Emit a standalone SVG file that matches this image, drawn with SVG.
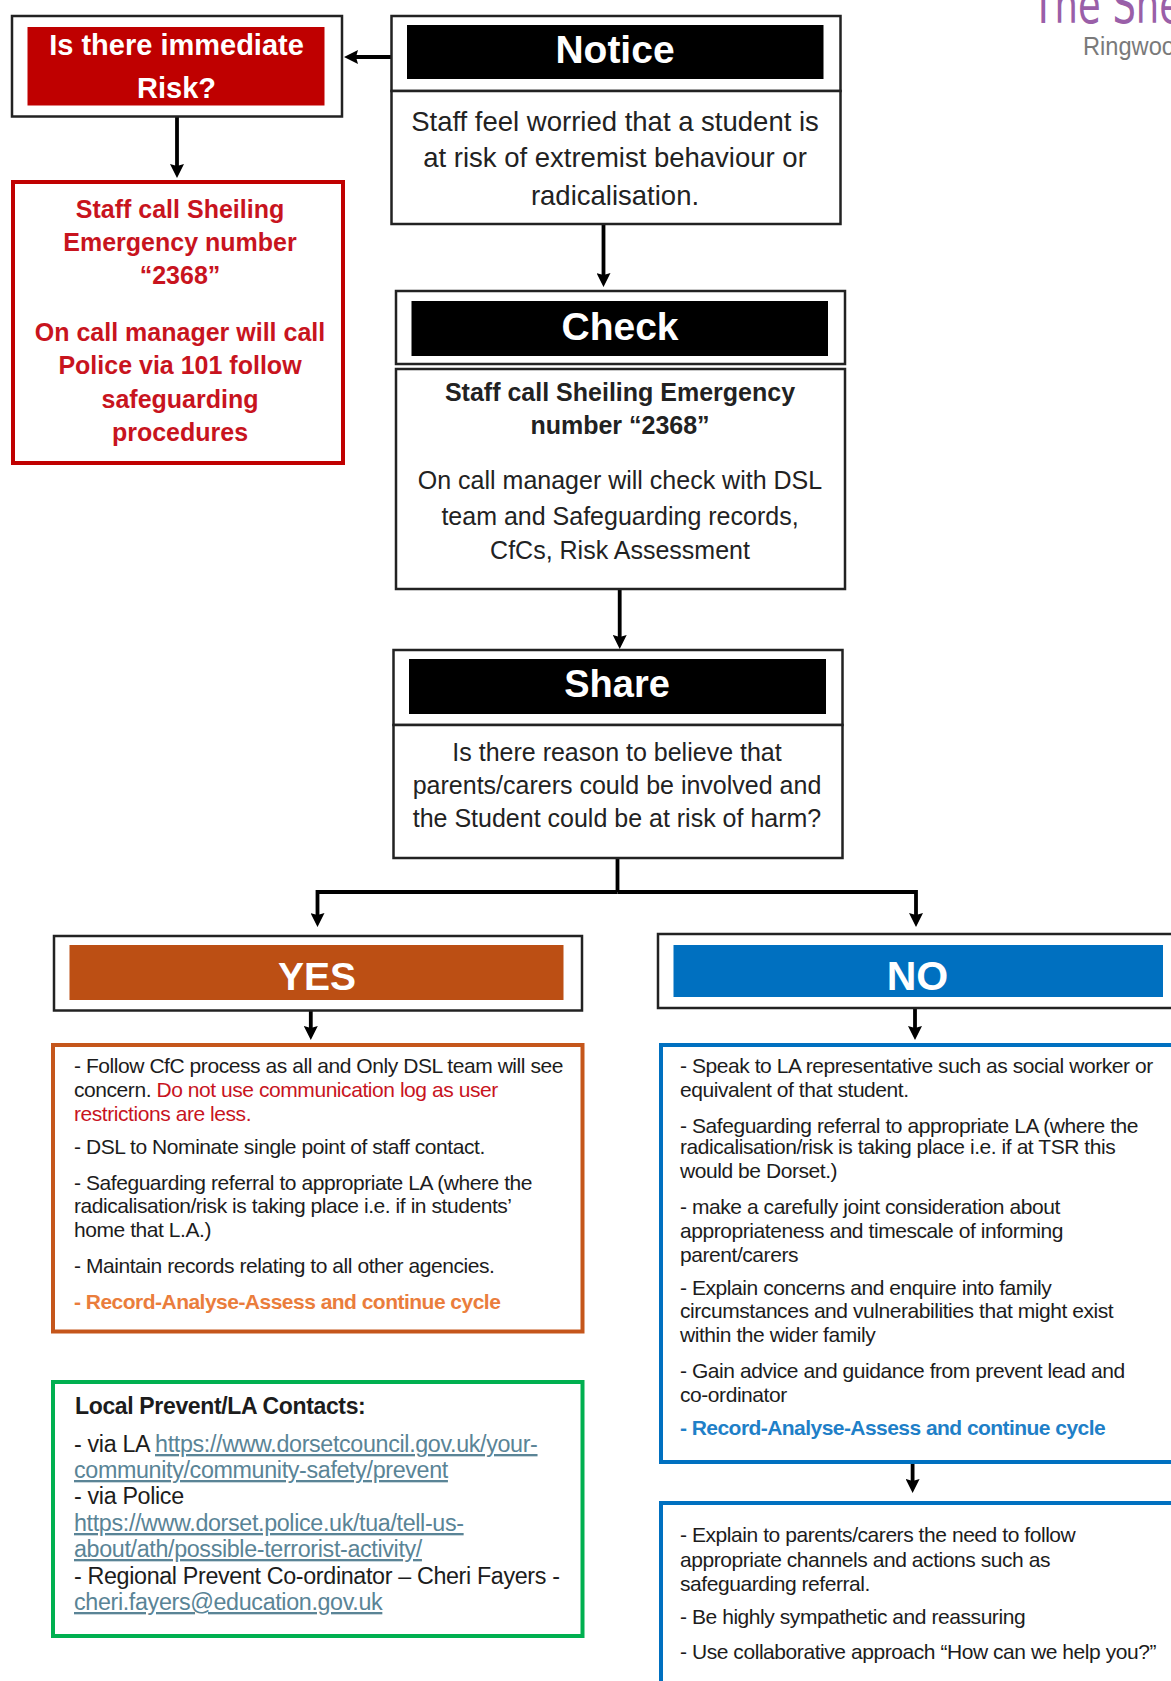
<svg xmlns="http://www.w3.org/2000/svg" width="1171" height="1681" viewBox="0 0 1171 1681">
<style>
text{font-family:"Liberation Sans",Arial,sans-serif}
.box{fill:#fff;stroke:#222;stroke-width:2.5}
.thick{fill:none;stroke-width:4}
.title{font-weight:700;fill:#fff;text-anchor:middle}
.body{font-size:27.5px;fill:#222;text-anchor:middle}
.b25{font-size:25px}
.bold{font-weight:700;font-size:25px}
.red{font-weight:700;font-size:25px;fill:#c8141e;text-anchor:middle}
.small{font-size:21px;fill:#1c1c1c;letter-spacing:-.44px}
.contact{font-size:23.3px;fill:#1c1c1c;letter-spacing:-.35px}
.head{font-weight:700;font-size:23px}
.link{fill:#5a8496;text-decoration:underline}
.conn{fill:none;stroke:#000;stroke-width:3.8}
</style>
<defs>
<marker id="arrow" markerUnits="userSpaceOnUse" markerWidth="14" markerHeight="14" refX="2" refY="7" orient="auto">
<path d="M0 0L14 7L0 14L2 7z" fill="#000"/>
</marker>
</defs>
<rect width="1171" height="1681" fill="#fff"/>

<g id="logo">
<text x="1032" y="23" font-size="54" fill="#9a5fa8" style="font-family:'DejaVu Sans',sans-serif" textLength="150" lengthAdjust="spacingAndGlyphs">The She</text>
<text x="1083" y="55" font-size="25" fill="#7a7a7a" textLength="92" lengthAdjust="spacingAndGlyphs">Ringwoo</text>
</g>

<g id="connectors">
<path class="conn" d="M391 57H356" marker-end="url(#arrow)"/>
<path class="conn" d="M177 117V166" marker-end="url(#arrow)"/>
<path class="conn" d="M603.5 224V275" marker-end="url(#arrow)"/>
<path class="conn" d="M619.7 589V637" marker-end="url(#arrow)"/>
<path class="conn" d="M617.5 858V892"/>
<path class="conn" d="M617.5 892H916V915" marker-end="url(#arrow)"/>
<path class="conn" d="M617.5 892H317.5V915" marker-end="url(#arrow)"/>
<path class="conn" d="M310.8 1011V1028" marker-end="url(#arrow)"/>
<path class="conn" d="M915 1008V1028" marker-end="url(#arrow)"/>
<path class="conn" d="M912.6 1462V1481" marker-end="url(#arrow)"/>
</g>

<g id="risk">
<rect class="box" x="12" y="16" width="330" height="100.5"/>
<rect x="27.5" y="27" width="297" height="78.5" fill="#bf0000"/>
<text class="title" font-size="29" x="176.5" y="55">Is there immediate</text>
<text class="title" font-size="29" x="176.5" y="98">Risk?</text>
</g>

<g id="risk-action">
<rect class="thick" x="13" y="182" width="330" height="281" stroke="#c00000"/>
<text class="red" x="180" y="218">Staff call Sheiling</text>
<text class="red" x="180" y="251">Emergency number</text>
<text class="red" x="180" y="284">“2368”</text>
<text class="red" x="180" y="341">On call manager will call</text>
<text class="red" x="180" y="374">Police via 101 follow</text>
<text class="red" x="180" y="408">safeguarding</text>
<text class="red" x="180" y="441">procedures</text>
</g>

<g id="notice">
<rect class="box" x="391.5" y="16" width="449" height="75"/>
<rect class="box" x="391.5" y="91" width="449" height="133"/>
<rect x="407" y="25" width="416.5" height="54" fill="#000"/>
<text class="title" font-size="39" x="615" y="63">Notice</text>
<text class="body" x="615" y="131">Staff feel worried that a student is</text>
<text class="body" x="615" y="167">at risk of extremist behaviour or</text>
<text class="body" x="615" y="205">radicalisation.</text>
</g>

<g id="check">
<rect class="box" x="396" y="291" width="449" height="73"/>
<rect class="box" x="396" y="369" width="449" height="220"/>
<rect x="411.500" y="301" width="416.5" height="55" fill="#000"/>
<text class="title" font-size="39" x="620" y="340">Check</text>
<text class="body bold" x="620" y="401">Staff call Sheiling Emergency</text>
<text class="body bold" x="620" y="434">number “2368”</text>
<text class="body b25" x="620" y="489">On call manager will check with DSL</text>
<text class="body b25" x="620" y="525">team and Safeguarding records,</text>
<text class="body b25" x="620" y="559">CfCs, Risk Assessment</text>
</g>

<g id="share">
<rect class="box" x="393.5" y="650" width="449" height="75"/>
<rect class="box" x="393.5" y="725" width="449" height="133"/>
<rect x="409" y="659" width="417" height="55" fill="#000"/>
<text class="title" font-size="38" x="617" y="697">Share</text>
<text class="body b25" x="617" y="761">Is there reason to believe that</text>
<text class="body b25" x="617" y="794">parents/carers could be involved and</text>
<text class="body b25" x="617" y="827">the Student could be at risk of harm?</text>
</g>

<g id="yes">
<rect class="box" x="54" y="936" width="528" height="74.5"/>
<rect x="69.5" y="945" width="494" height="55" fill="#bc4f14"/>
<text class="title" font-size="39" x="317" y="990">YES</text>
</g>

<g id="yes-actions">
<rect class="thick" x="53" y="1045" width="529.500" height="286.500" stroke="#c5561b"/>
<text class="small" x="74" y="1073">- Follow CfC process as all and Only DSL team will see</text>
<text class="small" x="74" y="1097">concern. <tspan fill="#c8141e">Do not use communication log as user</tspan></text>
<text class="small" x="74" y="1121" style="fill:#c8141e">restrictions are less.</text>
<text class="small" x="74" y="1154">- DSL to Nominate single point of staff contact.</text>
<text class="small" x="74" y="1190">- Safeguarding referral to appropriate LA (where the</text>
<text class="small" x="74" y="1213">radicalisation/risk is taking place i.e. if in students’</text>
<text class="small" x="74" y="1237">home that L.A.)</text>
<text class="small" x="74" y="1273">- Maintain records relating to all other agencies.</text>
<text class="small" x="74" y="1309" style="fill:#ea7d3c;font-weight:700;letter-spacing:-.52px">- Record-Analyse-Assess and continue cycle</text>
</g>

<g id="contacts">
<rect class="thick" x="53" y="1382" width="529.500" height="254" stroke="#00b050"/>
<text class="contact head" x="75" y="1414">Local Prevent/LA Contacts:</text>
<text class="contact" x="74" y="1452">- via LA <tspan class="link">https://www.dorsetcouncil.gov.uk/your-</tspan></text>
<text class="contact link" x="74" y="1478">community/community-safety/prevent</text>
<text class="contact" x="74" y="1504">- via Police</text>
<text class="contact link" x="74" y="1531">https://www.dorset.police.uk/tua/tell-us-</text>
<text class="contact link" x="74" y="1557">about/ath/possible-terrorist-activity/</text>
<text class="contact" x="74" y="1584">- Regional Prevent Co-ordinator – Cheri Fayers -</text>
<text class="contact link" x="74" y="1610">cheri.fayers@education.gov.uk</text>
</g>

<g id="no">
<rect class="box" x="658" y="934" width="530" height="74"/>
<rect x="673.5" y="945" width="489.500" height="52" fill="#0070c0"/>
<text class="title" font-size="41" x="917.500" y="990">NO</text>
</g>

<g id="no-actions">
<rect class="thick" x="661" y="1045" width="530" height="417" stroke="#0070c0"/>
<text class="small" x="680" y="1073">- Speak to LA representative such as social worker or</text>
<text class="small" x="680" y="1097">equivalent of that student.</text>
<text class="small" x="680" y="1133">- Safeguarding referral to appropriate LA (where the</text>
<text class="small" x="680" y="1154">radicalisation/risk is taking place i.e. if at TSR this</text>
<text class="small" x="680" y="1178">would be Dorset.)</text>
<text class="small" x="680" y="1214">- make a carefully joint consideration about</text>
<text class="small" x="680" y="1238">appropriateness and timescale of informing</text>
<text class="small" x="680" y="1262">parent/carers</text>
<text class="small" x="680" y="1295">- Explain concerns and enquire into family</text>
<text class="small" x="680" y="1318">circumstances and vulnerabilities that might exist</text>
<text class="small" x="680" y="1342">within the wider family</text>
<text class="small" x="680" y="1378">- Gain advice and guidance from prevent lead and</text>
<text class="small" x="680" y="1402">co-ordinator</text>
<text class="small" x="680" y="1435" style="fill:#1f80c8;font-weight:700;letter-spacing:-.55px">- Record-Analyse-Assess and continue cycle</text>
</g>

<g id="no-parents">
<rect class="thick" x="661" y="1503" width="530" height="221" stroke="#0070c0"/>
<text class="small" x="680" y="1542">- Explain to parents/carers the need to follow</text>
<text class="small" x="680" y="1567">appropriate channels and actions such as</text>
<text class="small" x="680" y="1591">safeguarding referral.</text>
<text class="small" x="680" y="1624">- Be highly sympathetic and reassuring</text>
<text class="small" x="680" y="1659">- Use collaborative approach “How can we help you?”</text>
</g>
</svg>
